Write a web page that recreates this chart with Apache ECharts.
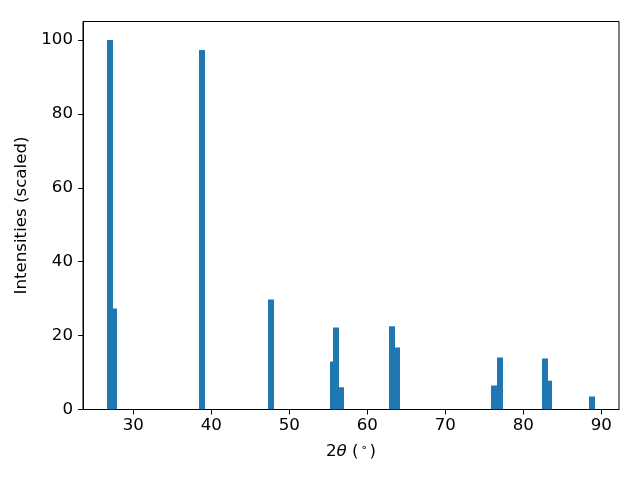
<!DOCTYPE html>
<html>
<head>
<meta charset="utf-8">
<script src="https://cdn.jsdelivr.net/npm/echarts@6/dist/echarts.min.js"></script>
<style>html,body{margin:0;padding:0;background:#fff}#c{width:640px;height:480px}</style>
</head>
<body>
<div id="c"></div>
<script>
// Peak positions (2θ, degrees) and scaled intensities
const peakPositions = [27.00, 27.52, 38.83, 47.70, 55.67, 55.93, 56.58, 63.13, 63.75, 76.25, 77.02, 82.80, 83.32, 88.85];
const peakIntensities = [100, 27.3, 97.3, 29.8, 13.0, 22.2, 6.0, 22.5, 16.8, 6.5, 14.1, 13.8, 7.8, 3.5];
const xTicks = [30, 40, 50, 60, 70, 80, 90];
const yTicks = [0, 20, 40, 60, 80, 100];

const BAR_W = 0.78;
const data = peakPositions.map((x, i) => [x, peakIntensities[i]]);

const chart = echarts.init(document.getElementById('c'), null, {renderer: 'canvas'});
const font = 'DejaVu Sans';
const fs = 16.67;
chart.setOption({
  animation: false,
  backgroundColor: '#fff',
  grid: {left: 83, right: 21, top: 21.5, bottom: 70.5, show: true, borderColor: '#000', borderWidth: 1, backgroundColor: 'transparent', containLabel: false},
  xAxis: {
    type: 'value', min: 23.55, max: 92.27,
    name: '2{i|θ} ({s|∘})',
    nameLocation: 'middle', nameGap: 33,
    nameTextStyle: {fontFamily: font, fontSize: fs, color: '#000',
      rich: {i: {fontFamily: font, fontStyle: 'italic', fontSize: fs, color: '#000'},
             s: {fontFamily: font, fontSize: 11, color: '#000', padding: [0, 2, 8, 2]}}},
    axisLine: {show: true, lineStyle: {color: '#000', width: 1}},
    axisTick: {show: true, length: 5, lineStyle: {color: '#000'}, customValues: xTicks},
    axisLabel: {fontFamily: font, fontSize: fs, color: '#000', margin: 8, customValues: xTicks},
    splitLine: {show: false}
  },
  yAxis: {
    type: 'value', min: 0, max: 105,
    name: 'Intensities (scaled)',
    nameLocation: 'middle', nameGap: 43,
    nameTextStyle: {fontFamily: font, fontSize: fs, color: '#000'},
    axisLine: {show: true, lineStyle: {color: '#000', width: 1}},
    axisTick: {show: true, length: 5, lineStyle: {color: '#000'}, customValues: yTicks},
    axisLabel: {fontFamily: font, fontSize: fs, color: '#000', margin: 10, customValues: yTicks},
    splitLine: {show: false}
  },
  series: [{
    type: 'custom',
    clip: true,
    data: data,
    renderItem: function (params, api) {
      const x = api.value(0), h = api.value(1);
      const p0 = api.coord([x - BAR_W / 2, h]);
      const p1 = api.coord([x + BAR_W / 2, 0]);
      const x0 = Math.round(p0[0]), x1 = Math.round(p1[0]);
      return {type: 'rect', shape: {x: x0, y: p0[1], width: x1 - x0, height: p1[1] - p0[1]},
              style: {fill: '#1f77b4'}};
    }
  }]
});
</script>
</body>
</html>
